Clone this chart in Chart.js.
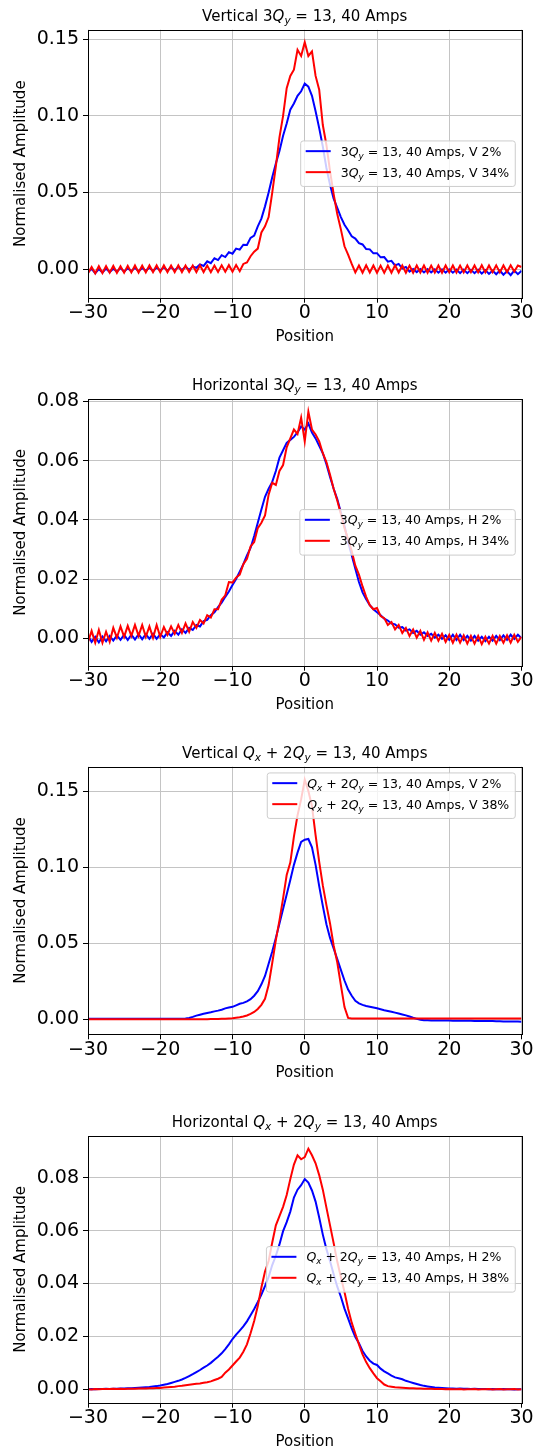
<!DOCTYPE html>
<html><head><meta charset="utf-8">
<script src="https://cdn.jsdelivr.net/npm/chart.js@4.4.0/dist/chart.umd.min.js"></script>
<style>
html,body{margin:0;padding:0;background:#fff;}
#wrap{position:relative;width:542px;height:1451px;overflow:hidden;background:#fff;}
canvas{position:absolute;left:0;}
</style></head><body><div id="wrap">
<canvas id="c1" width="542" height="370" style="top:0px;width:542px;height:370px"></canvas>
<canvas id="c2" width="542" height="370" style="top:370px;width:542px;height:370px"></canvas>
<canvas id="c3" width="542" height="365" style="top:740px;width:542px;height:365px"></canvas>
<canvas id="c4" width="542" height="346" style="top:1105px;width:542px;height:346px"></canvas>
</div>
<script>
// ---------------- data ----------------
const positions = [-30,-29.5,-29,-28.5,-28,-27.5,-27,-26.5,-26,-25.5,
 -25,-24.5,-24,-23.5,-23,-22.5,-22,-21.5,-21,-20.5,
 -20,-19.5,-19,-18.5,-18,-17.5,-17,-16.5,-16,-15.5,
 -15,-14.5,-14,-13.5,-13,-12.5,-12,-11.5,-11,-10.5,
 -10,-9.5,-9,-8.5,-8,-7.5,-7,-6.5,-6,-5.5,
 -5,-4.5,-4,-3.5,-3,-2.5,-2,-1.5,-1,-0.5,
 0,0.5,1,1.5,2,2.5,3,3.5,4,4.5,
 5,5.5,6,6.5,7,7.5,8,8.5,9,9.5,
 10,10.5,11,11.5,12,12.5,13,13.5,14,14.5,
 15,15.5,16,16.5,17,17.5,18,18.5,19,19.5,
 20,20.5,21,21.5,22,22.5,23,23.5,24,24.5,
 25,25.5,26,26.5,27,27.5,28,28.5,29,29.5,
 30];
const xTicks = [-30,-20,-10,0,10,20,30];
const yTicksCoarse = [0,0.05,0.10,0.15];
const yTicksFine = [0,0.02,0.04,0.06,0.08];

// Panel 1: Vertical 3Qy=13
const vBlue3Q = [
 -0.0020,0.0003,-0.0025,0.0002,-0.0021,0.0005,-0.0018,0.0004,-0.0015,0.0008,
 -0.0015,0.0007,-0.0012,0.0010,-0.0013,0.0009,-0.0010,0.0012,-0.0011,0.0012,
 -0.0008,0.0013,-0.0009,0.0014,-0.0006,0.0015,-0.0005,0.0016,-0.0003,0.0018,
 0.0010,0.0032,0.0022,0.0052,0.0040,0.0072,0.0060,0.0092,0.0080,0.0112,
 0.0102,0.0135,0.0128,0.0160,0.0158,0.0205,0.0220,0.0280,0.0330,0.0410,
 0.0500,0.0600,0.0690,0.0770,0.0870,0.0950,0.1040,0.1080,0.1130,0.1160,
 0.1210,0.1190,0.1130,0.1030,0.0920,0.0800,0.0660,0.0550,0.0460,0.0400,
 0.0340,0.0290,0.0255,0.0215,0.0200,0.0170,0.0162,0.0132,0.0130,0.0104,
 0.0105,0.0078,0.0080,0.0050,0.0055,0.0025,0.0035,0.0005,0.0015,-0.0015,
 0.0002,-0.0018,0.0002,-0.0020,0.0001,-0.0020,0.0000,-0.0022,0.0000,-0.0022,
 0.0000,-0.0022,-0.0002,-0.0025,-0.0002,-0.0025,-0.0003,-0.0025,-0.0003,-0.0028,
 -0.0005,-0.0030,-0.0008,-0.0032,-0.0008,-0.0035,-0.0012,-0.0038,-0.0008,-0.0032,
 -0.0010];
const vRed3Q = [
 -0.0025,0.0015,-0.0026,0.0020,-0.0024,0.0021,-0.0022,0.0022,-0.0023,0.0020,
 -0.0022,0.0023,-0.0020,0.0025,-0.0021,0.0024,-0.0020,0.0025,-0.0018,0.0026,
 -0.0019,0.0025,-0.0018,0.0024,-0.0019,0.0026,-0.0018,0.0025,-0.0017,0.0025,
 -0.0018,0.0026,-0.0018,0.0024,-0.0019,0.0025,-0.0017,0.0026,-0.0016,0.0027,
 -0.0015,0.0028,-0.0012,0.0035,0.0045,0.0085,0.0115,0.0135,0.0240,0.0280,
 0.0340,0.0500,0.0670,0.0860,0.1000,0.1180,0.1260,0.1300,0.1430,0.1390,
 0.1480,0.1390,0.1420,0.1260,0.1170,0.0940,0.0810,0.0640,0.0490,0.0360,
 0.0260,0.0150,0.0095,0.0035,-0.0020,0.0025,-0.0022,0.0026,-0.0021,0.0025,
 -0.0022,0.0024,-0.0023,0.0025,-0.0022,0.0026,-0.0021,0.0025,-0.0022,0.0024,
 -0.0022,0.0025,-0.0021,0.0025,-0.0022,0.0024,-0.0021,0.0025,-0.0022,0.0025,
 -0.0020,0.0025,-0.0021,0.0024,-0.0020,0.0025,-0.0019,0.0025,-0.0020,0.0026,
 -0.0020,0.0025,-0.0019,0.0026,-0.0020,0.0025,-0.0018,0.0026,-0.0015,0.0025,
 0.0015];

// Panel 2: Horizontal 3Qy=13
const hBlue3Q = [
 0.0008,-0.0012,0.0005,-0.0014,0.0006,-0.0010,0.0008,-0.0008,0.0010,-0.0005,
 0.0012,-0.0006,0.0012,-0.0004,0.0014,-0.0003,0.0014,-0.0002,0.0015,-0.0002,
 0.0014,0.0003,0.0020,0.0008,0.0025,0.0012,0.0030,0.0018,0.0035,0.0028,
 0.0045,0.0040,0.0058,0.0062,0.0078,0.0088,0.0105,0.0120,0.0140,0.0158,
 0.0180,0.0200,0.0225,0.0250,0.0280,0.0305,0.0345,0.0390,0.0435,0.0478,
 0.0505,0.0528,0.0565,0.0610,0.0635,0.0660,0.0670,0.0680,0.0695,0.0715,
 0.0705,0.0725,0.0695,0.0675,0.0650,0.0625,0.0588,0.0545,0.0505,0.0470,
 0.0425,0.0380,0.0325,0.0280,0.0235,0.0190,0.0155,0.0132,0.0112,0.0098,
 0.0088,0.0078,0.0066,0.0060,0.0050,0.0047,0.0036,0.0038,0.0026,0.0030,
 0.0018,0.0025,0.0012,0.0020,0.0008,0.0015,0.0002,0.0012,-0.0002,0.0010,
 -0.0005,0.0012,-0.0006,0.0012,-0.0006,0.0008,-0.0008,0.0008,-0.0008,0.0005,
 -0.0010,0.0005,-0.0008,0.0008,-0.0006,0.0010,-0.0005,0.0012,-0.0002,0.0012,
 0.0000];
const hRed3Q = [
 -0.0012,0.0025,-0.0015,0.0028,-0.0015,0.0022,-0.0012,0.0035,0.0002,0.0040,
 0.0005,0.0042,0.0008,0.0045,0.0008,0.0045,0.0005,0.0040,0.0002,0.0045,
 0.0005,0.0038,0.0012,0.0040,0.0015,0.0045,0.0018,0.0050,0.0022,0.0055,
 0.0035,0.0062,0.0050,0.0078,0.0070,0.0098,0.0098,0.0130,0.0145,0.0190,
 0.0188,0.0205,0.0215,0.0250,0.0268,0.0310,0.0325,0.0372,0.0390,0.0415,
 0.0485,0.0525,0.0518,0.0565,0.0585,0.0645,0.0675,0.0705,0.0690,0.0745,
 0.0665,0.0765,0.0705,0.0688,0.0665,0.0625,0.0595,0.0552,0.0505,0.0465,
 0.0420,0.0372,0.0335,0.0295,0.0245,0.0215,0.0175,0.0140,0.0112,0.0098,
 0.0102,0.0075,0.0068,0.0045,0.0055,0.0030,0.0045,0.0018,0.0035,0.0008,
 0.0030,0.0002,0.0025,-0.0005,0.0020,-0.0008,0.0018,-0.0008,0.0015,-0.0012,
 0.0012,-0.0015,0.0012,-0.0015,0.0010,-0.0018,0.0008,-0.0018,0.0008,-0.0020,
 0.0005,-0.0018,0.0008,-0.0018,0.0008,-0.0015,0.0010,-0.0015,0.0012,-0.0012,
 0.0005];

// Panel 3: Vertical Qx+2Qy=13
const vBlueQx = [
 0.0003,0.0003,0.0003,0.0003,0.0003,0.0003,0.0003,0.0003,0.0003,0.0003,
 0.0003,0.0003,0.0003,0.0003,0.0003,0.0003,0.0003,0.0003,0.0003,0.0003,
 0.0003,0.0003,0.0003,0.0003,0.0003,0.0003,0.0003,0.0005,0.0009,0.0016,
 0.0024,0.0030,0.0036,0.0041,0.0046,0.0052,0.0057,0.0063,0.0072,0.0078,
 0.0082,0.0092,0.0102,0.0108,0.0118,0.0132,0.0155,0.0185,0.0230,0.0285,
 0.0365,0.0445,0.0535,0.0630,0.0725,0.0820,0.0915,0.1015,0.1095,0.1165,
 0.1180,0.1185,0.1130,0.1015,0.0875,0.0745,0.0625,0.0535,0.0465,0.0395,
 0.0325,0.0255,0.0195,0.0155,0.0122,0.0105,0.0095,0.0088,0.0083,0.0078,
 0.0072,0.0066,0.0060,0.0055,0.0050,0.0044,0.0038,0.0032,0.0026,0.0018,
 0.0010,0.0003,-0.0003,-0.0006,-0.0007,-0.0008,-0.0008,-0.0008,-0.0008,-0.0008,
 -0.0008,-0.0009,-0.0009,-0.0010,-0.0010,-0.0010,-0.0010,-0.0011,-0.0011,-0.0011,
 -0.0012,-0.0012,-0.0012,-0.0013,-0.0013,-0.0014,-0.0014,-0.0015,-0.0015,-0.0015,
 -0.0016];
const vRedQx = [
 0.0001,0.0001,0.0001,0.0001,0.0001,0.0001,0.0001,0.0001,0.0001,0.0001,
 0.0001,0.0001,0.0001,0.0001,0.0001,0.0001,0.0001,0.0001,0.0001,0.0001,
 0.0001,0.0001,0.0001,0.0001,0.0001,0.0001,0.0001,0.0001,0.0001,0.0001,
 0.0001,0.0001,0.0001,0.0001,0.0002,0.0002,0.0002,0.0003,0.0003,0.0005,
 0.0007,0.0010,0.0013,0.0018,0.0025,0.0035,0.0048,0.0068,0.0095,0.0135,
 0.0225,0.0370,0.0520,0.0650,0.0795,0.0948,0.1030,0.1200,0.1340,0.1445,
 0.1575,0.1500,0.1400,0.1210,0.1035,0.0880,0.0750,0.0630,0.0485,0.0375,
 0.0225,0.0080,0.0009,0.0006,0.0005,0.0005,0.0005,0.0005,0.0005,0.0005,
 0.0005,0.0005,0.0005,0.0005,0.0005,0.0005,0.0005,0.0005,0.0005,0.0005,
 0.0005,0.0005,0.0005,0.0005,0.0005,0.0005,0.0005,0.0005,0.0005,0.0005,
 0.0005,0.0005,0.0005,0.0005,0.0005,0.0005,0.0005,0.0005,0.0005,0.0005,
 0.0005,0.0005,0.0005,0.0005,0.0005,0.0005,0.0005,0.0005,0.0005,0.0005,
 0.0005];

// Panel 4: Horizontal Qx+2Qy=13
const hBlueQx = [
 0.0000,0.0001,0.0000,0.0001,0.0001,0.0002,0.0001,0.0002,0.0002,0.0003,
 0.0003,0.0004,0.0004,0.0005,0.0006,0.0007,0.0008,0.0009,0.0011,0.0012,
 0.0014,0.0017,0.0020,0.0024,0.0028,0.0032,0.0037,0.0043,0.0050,0.0057,
 0.0065,0.0073,0.0082,0.0090,0.0100,0.0112,0.0123,0.0136,0.0152,0.0170,
 0.0190,0.0207,0.0222,0.0238,0.0257,0.0280,0.0304,0.0330,0.0358,0.0390,
 0.0425,0.0470,0.0505,0.0548,0.0598,0.0632,0.0672,0.0725,0.0755,0.0772,
 0.0795,0.0782,0.0752,0.0710,0.0650,0.0585,0.0530,0.0485,0.0435,0.0388,
 0.0350,0.0305,0.0268,0.0230,0.0198,0.0174,0.0145,0.0124,0.0108,0.0097,
 0.0092,0.0078,0.0068,0.0060,0.0052,0.0045,0.0042,0.0038,0.0032,0.0028,
 0.0024,0.0020,0.0016,0.0013,0.0011,0.0009,0.0007,0.0006,0.0005,0.0004,
 0.0003,0.0003,0.0002,0.0003,0.0002,0.0002,0.0001,0.0002,0.0001,0.0001,
 0.0001,0.0000,0.0001,0.0000,0.0000,0.0001,0.0000,0.0000,-0.0001,0.0000,
 0.0000];
const hRedQx = [
 0.0000,-0.0001,0.0001,0.0000,0.0001,0.0001,0.0001,0.0002,0.0001,0.0002,
 0.0001,0.0002,0.0002,0.0002,0.0003,0.0003,0.0003,0.0004,0.0004,0.0005,
 0.0005,0.0007,0.0008,0.0009,0.0010,0.0012,0.0013,0.0015,0.0017,0.0019,
 0.0021,0.0022,0.0025,0.0027,0.0030,0.0035,0.0040,0.0047,0.0063,0.0075,
 0.0090,0.0105,0.0120,0.0142,0.0170,0.0212,0.0258,0.0315,0.0385,0.0445,
 0.0485,0.0555,0.0620,0.0655,0.0690,0.0735,0.0795,0.0850,0.0885,0.0870,
 0.0878,0.0910,0.0885,0.0855,0.0810,0.0755,0.0687,0.0620,0.0553,0.0483,
 0.0425,0.0368,0.0305,0.0252,0.0210,0.0170,0.0132,0.0103,0.0080,0.0060,
 0.0042,0.0030,0.0018,0.0012,0.0010,0.0008,0.0007,0.0006,0.0005,0.0004,
 0.0004,0.0003,0.0003,0.0002,0.0002,0.0002,0.0001,0.0001,0.0001,0.0000,
 0.0001,0.0000,0.0000,0.0001,-0.0001,0.0000,0.0000,0.0001,-0.0001,0.0000,
 0.0000,0.0001,-0.0001,0.0000,0.0001,-0.0001,0.0000,0.0000,0.0001,-0.0001,
 0.0000];

const panelTitles = [
 'Vertical 3Q_y = 13, 40 Amps',
 'Horizontal 3Q_y = 13, 40 Amps',
 'Vertical Q_x + 2Q_y = 13, 40 Amps',
 'Horizontal Q_x + 2Q_y = 13, 40 Amps'];
const legendLabels = [
 ['3Q_y = 13, 40 Amps, V 2%','3Q_y = 13, 40 Amps, V 34%'],
 ['3Q_y = 13, 40 Amps, H 2%','3Q_y = 13, 40 Amps, H 34%'],
 ['Q_x + 2Q_y = 13, 40 Amps, V 2%','Q_x + 2Q_y = 13, 40 Amps, V 38%'],
 ['Q_x + 2Q_y = 13, 40 Amps, H 2%','Q_x + 2Q_y = 13, 40 Amps, H 38%']];
const xLabel = 'Position';
const yLabel = 'Normalised Amplitude';

// ---------------- rendering ----------------
const FONT = '"DejaVu Sans", "Liberation Sans", sans-serif';
Chart.defaults.color = '#000';
Chart.defaults.font.family = FONT;

function mt(str){
  const out=[];
  str.split(/(Q_[xy])/).forEach(p=>{
    if(!p) return;
    if(/^Q_[xy]$/.test(p)){ out.push({t:'Q',it:true}); out.push({t:p[2],it:true,sub:true}); }
    else out.push({t:p});
  });
  return out;
}
function segFont(s,size){ return (s.it?'italic ':'')+(s.sub?size*0.7:size)+'px '+FONT; }
function richWidth(ctx,segs,size){ let w=0; segs.forEach(s=>{ctx.font=segFont(s,size); w+=ctx.measureText(s.t).width;}); return w; }
function drawRich(ctx,segs,x,y,size){
  let cx=x; ctx.textBaseline='alphabetic'; ctx.textAlign='left'; ctx.fillStyle='#000';
  segs.forEach(s=>{ ctx.font=segFont(s,size); ctx.fillText(s.t,cx,y+(s.sub?size*0.22:0)); cx+=ctx.measureText(s.t).width; });
}

const decorPlugin = {
  id:'decor',
  afterDatasetsDraw(chart){
    const o = chart.options.plugins.decor; const ctx=chart.ctx; const ca=chart.chartArea;
    ctx.save();
    ctx.strokeStyle='#000'; ctx.lineWidth=1;
    ctx.strokeRect(Math.round(ca.left)+0.5, Math.round(ca.top)+0.5, Math.round(ca.right)-Math.round(ca.left), Math.round(ca.bottom)-Math.round(ca.top));
    // legend
    const fs=12.5, pad=5, hl=25, htp=10;
    const segsList=o.legend.map(it=>mt(it.label));
    const tw=Math.max(...segsList.map(s=>richWidth(ctx,s,fs)));
    const boxW=pad+hl+htp+tw+pad+1, boxH=45.5;
    const right=ca.right-6.25, left=right-boxW;
    const top = o.legendPos==='upper' ? ca.top+6.25 : (ca.top+ca.bottom)/2-boxH/2;
    ctx.beginPath();
    const r=2.5;
    ctx.moveTo(left+r,top); ctx.lineTo(left+boxW-r,top); ctx.quadraticCurveTo(left+boxW,top,left+boxW,top+r);
    ctx.lineTo(left+boxW,top+boxH-r); ctx.quadraticCurveTo(left+boxW,top+boxH,left+boxW-r,top+boxH);
    ctx.lineTo(left+r,top+boxH); ctx.quadraticCurveTo(left,top+boxH,left,top+boxH-r);
    ctx.lineTo(left,top+r); ctx.quadraticCurveTo(left,top,left+r,top); ctx.closePath();
    ctx.fillStyle='rgba(255,255,255,0.8)'; ctx.fill();
    ctx.strokeStyle='#cccccc'; ctx.lineWidth=1; ctx.stroke();
    o.legend.forEach((it,i)=>{
      const ry=top+10.2+i*21;
      ctx.beginPath(); ctx.strokeStyle=it.color; ctx.lineWidth=2;
      ctx.moveTo(left+pad,ry); ctx.lineTo(left+pad+hl,ry); ctx.stroke();
      drawRich(ctx,segsList[i],left+pad+hl+htp,ry+4.6,fs);
    });
    ctx.restore();
  },
  afterDraw(chart){
    const o = chart.options.plugins.decor; const ctx=chart.ctx; const ca=chart.chartArea;
    ctx.save();
    const segs=mt(o.title); const fs=15;
    const w=richWidth(ctx,segs,fs);
    drawRich(ctx,segs,(ca.left+ca.right)/2-w/2,ca.top-9,fs);
    ctx.restore();
  }
};

const panels = [
 {id:'c1',top:0,h:370,plotTop:29.7,plotBottom:297.7,yMin:-0.0185,yMax:0.1561,yTicks:yTicksCoarse,blue:vBlue3Q,red:vRed3Q,legendPos:'center'},
 {id:'c2',top:370,h:370,plotTop:399,plotBottom:665.7,yMin:-0.00926,yMax:0.0808,yTicks:yTicksFine,blue:hBlue3Q,red:hRed3Q,legendPos:'center'},
 {id:'c3',top:740,h:365,plotTop:766.7,plotBottom:1034.3,yMin:-0.00986,yMax:0.166,yTicks:yTicksCoarse,blue:vBlueQx,red:vRedQx,legendPos:'upper'},
 {id:'c4',top:1105,h:346,plotTop:1136,plotBottom:1402.7,yMin:-0.00507,yMax:0.0958,yTicks:yTicksFine,blue:hBlueQx,red:hRedQx,legendPos:'center'}
];
const PLOT_LEFT=88, PLOT_RIGHT=521.5;

panels.forEach((p,idx)=>{
  const localTop=p.plotTop-p.top, localBottom=p.plotBottom-p.top;
  const xH=p.h-localBottom;
  const mk=(vals)=>positions.map((x,i)=>({x:x,y:vals[i]}));
  new Chart(document.getElementById(p.id),{
    type:'line',
    data:{datasets:[
      {label:legendLabels[idx][0],data:mk(p.blue),borderColor:'#0000ff',borderWidth:2,pointRadius:0,tension:0,order:1,fill:false},
      {label:legendLabels[idx][1],data:mk(p.red),borderColor:'#ff0000',borderWidth:2,pointRadius:0,tension:0,order:0,fill:false}
    ]},
    options:{
      responsive:false,animation:false,devicePixelRatio:1,events:[],
      layout:{padding:{left:0,top:localTop,right:542-PLOT_RIGHT,bottom:0}},
      plugins:{legend:{display:false},title:{display:false},tooltip:{enabled:false},
        decor:{title:panelTitles[idx],legendPos:p.legendPos,legend:[
          {label:legendLabels[idx][0],color:'#0000ff'},{label:legendLabels[idx][1],color:'#ff0000'}]}},
      scales:{
        x:{type:'linear',min:-30,max:30,
          afterBuildTicks:(s)=>{s.ticks=xTicks.map(v=>({value:v}));},
          afterFit:(s)=>{s.height=xH;},
          ticks:{font:{size:19,lineHeight:1.1},padding:0,maxRotation:0,autoSkip:false,color:'#000',
            callback:(v)=>v<0?'\u2212'+Math.abs(v):String(v)},
          grid:{color:'#c4c4c4',lineWidth:1,tickColor:'#000',tickLength:5,tickWidth:1},
          border:{display:false},
          title:{display:true,text:xLabel,color:'#000',font:{size:15},padding:{top:0,bottom:xH-39-9}}
        },
        y:{type:'linear',min:p.yMin,max:p.yMax,
          afterBuildTicks:(s)=>{s.ticks=p.yTicks.map(v=>({value:v}));},
          afterFit:(s)=>{s.width=PLOT_LEFT;},
          ticks:{font:{size:19},padding:4,color:'#000',autoSkip:false,callback:(v)=>v.toFixed(2)},
          grid:{color:'#c4c4c4',lineWidth:1,tickColor:'#000',tickLength:5,tickWidth:1},
          border:{display:false},
          title:{display:true,text:yLabel,color:'#000',font:{size:15},padding:{top:12,bottom:0}}
        }
      }
    },
    plugins:[decorPlugin]
  });
});
</script>
</body></html>
